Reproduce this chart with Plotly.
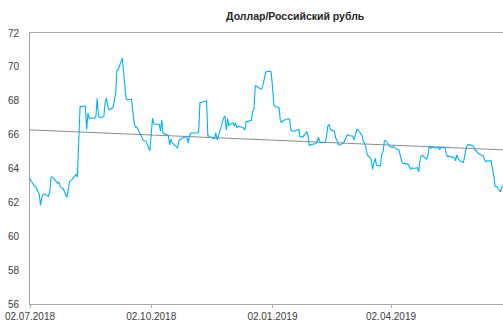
import pandas as pd
import plotly.graph_objects as go

# Daily USD/RUB rate, business days starting 02.07.2018
start_date = "2018-07-02"
usd_rub = [
    63.42, 63.22, 63.16, 62.98, 62.95, 62.5, 61.84, 62.3, 62.45, 62.5,
    62.35, 62.6, 63.5, 63.5, 63.42, 63.12, 63.2, 62.92, 62.85, 62.83,
    62.3, 62.7, 63.22, 63.3, 63.36, 63.66, 63.5, 65.6, 67.66, 67.66,
    67.7, 66.3, 67.27, 66.95, 66.97, 66.97, 67.05, 68.15, 67.1, 67.0,
    67.05, 67.86, 68.17, 67.7, 67.46, 67.6,
    68.0, 68.4, 69.83, 69.83, 70.52, 69.53, 68.8, 68.1, 68.05, 68.1,
    67.4, 66.7, 66.44, 66.44, 66.0, 65.84, 65.66, 65.62, 65.62, 65.05,
    65.8, 66.97, 66.63, 66.63, 66.6, 66.22, 66.87, 66.08, 66.05, 65.95,
    65.39, 65.73, 65.5, 65.45, 65.2, 65.6, 65.73, 65.75, 65.8, 65.9,
    65.5, 65.9, 66.1,
    66.1, 66.1, 66.1, 66.15, 67.9, 67.9, 67.95, 68.0, 65.92, 65.92,
    65.84, 65.75, 66.1, 65.7, 65.9, 66.15, 67.0, 67.1, 66.28, 66.95,
    66.55, 66.7, 66.5, 66.7, 66.4, 66.5, 66.4, 66.4, 66.26, 66.77,
    66.77, 66.85, 67.4, 67.5, 68.88, 68.85, 68.69, 68.69, 69.0, 69.43,
    69.7, 69.75, 69.7,
    68.9, 67.8, 67.66, 67.6, 66.85, 66.7, 66.85, 66.85, 66.95, 66.9,
    66.28, 66.2, 66.2, 66.3, 66.3, 65.85, 65.9, 65.85, 66.18, 65.95,
    65.35, 65.4, 65.42, 65.48, 65.6, 65.85, 65.56, 65.52, 65.55, 65.85,
    66.5, 66.6, 66.3, 66.2, 65.8, 65.67, 65.4, 65.39, 65.5, 65.7,
    65.85, 66.0, 65.95, 65.9,
    65.7, 66.0, 66.3, 66.28, 65.95, 65.6, 65.5, 65.2, 64.8, 64.55,
    63.95, 64.3, 64.6, 64.2, 64.15, 64.85, 65.0, 65.64, 65.65, 65.3,
    65.25, 65.25, 65.3, 65.2, 65.1, 64.7, 64.45, 64.3, 64.3, 64.25,
    64.1, 63.95, 64.05, 64.0, 64.05, 63.8, 64.5, 64.77, 64.75, 64.55,
    64.74, 65.33, 65.2,
    65.3, 65.2, 65.25, 65.3, 65.1, 65.25, 65.25, 64.85, 64.7, 64.75,
    64.7, 64.65, 64.45, 64.8, 64.6, 64.45, 64.35, 64.8, 65.2, 65.39,
    65.42, 65.35, 65.25, 65.05, 65.05, 64.9, 64.75, 64.75, 64.5, 64.4,
    64.45, 64.45, 63.95, 63.6, 62.93, 62.95, 62.63, 62.9, 62.95,
]
dates = pd.bdate_range(start_date, periods=len(usd_rub))

# Linear trend line: values at the first and last date
trend_values = [66.28, 65.1]

title_text = "Доллар/Российский рубль"
y_ticks = [56, 58, 60, 62, 64, 66, 68, 70, 72]

font_family = "Liberation Sans, Arial, sans-serif"
text_color = "#404040"
axis_color = "#A6A6A6"

fig = go.Figure()
fig.add_trace(go.Scatter(
    x=[dates[0], dates[-1]], y=trend_values, mode="lines",
    line=dict(color="#8C8C8C", width=1),
    hoverinfo="skip", showlegend=False,
))
fig.add_trace(go.Scatter(
    x=dates, y=usd_rub, mode="lines",
    line=dict(color="#00B0F0", width=1.1),
    showlegend=False,
))

fig.update_layout(
    width=503, height=323,
    margin=dict(l=30, r=0, t=33, b=19),
    paper_bgcolor="white", plot_bgcolor="white",
    font=dict(family=font_family, size=10, color=text_color),
    title=dict(
        text=f"<b>{title_text}</b>",
        x=282 / 503, xanchor="center", xref="paper",
        y=1 - 16 / 323, yanchor="middle", yref="container",
        font=dict(size=10.5, color="#262626", family=font_family),
    ),
)
fig.update_xaxes(
    type="date",
    range=[dates[0], dates[-1]],
    tick0=start_date, dtick="M3", tickformat="%d.%m.%Y",
    showgrid=False, zeroline=False,
    showline=True, linecolor=axis_color, linewidth=1, mirror=True,
    ticks="outside", ticklen=3, tickcolor=axis_color,
    tickfont=dict(size=10, color=text_color),
)
fig.update_yaxes(
    range=[56, 72], tickvals=y_ticks,
    showgrid=False, zeroline=False,
    showline=True, linecolor=axis_color, linewidth=1, mirror=True,
    ticks="", ticklabelstandoff=8,
    tickfont=dict(size=10, color=text_color),
)

fig.write_html("out.html")
